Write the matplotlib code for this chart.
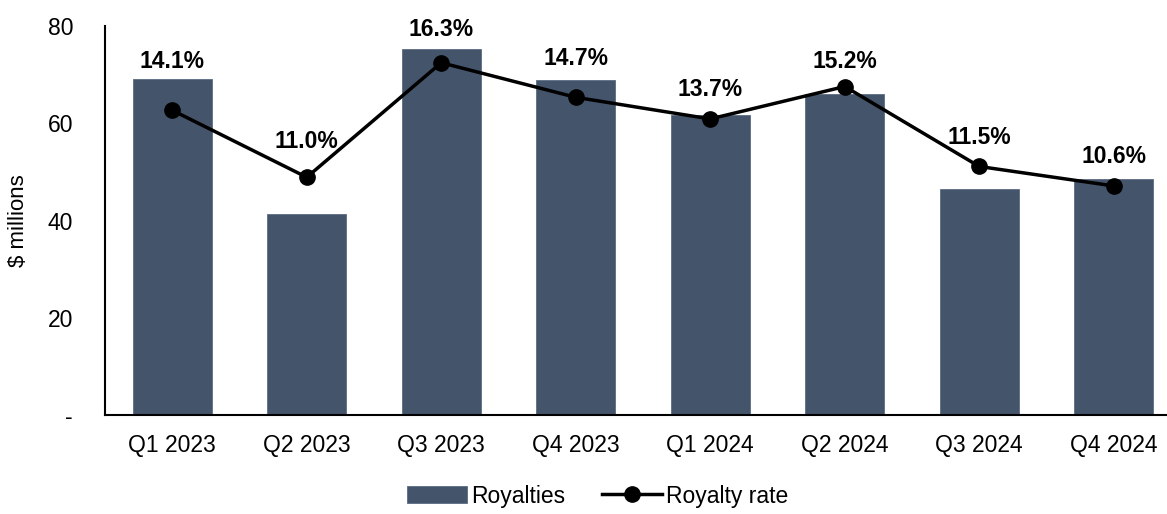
import matplotlib.pyplot as plt
import numpy as np

quarters = ["Q1 2023", "Q2 2023", "Q3 2023", "Q4 2023",
            "Q1 2024", "Q2 2024", "Q3 2024", "Q4 2024"]
royalties = [69.1, 41.4, 75.3, 68.9, 61.7, 66.0, 46.5, 48.6]
royalty_rate = [14.1, 11.0, 16.3, 14.7, 13.7, 15.2, 11.5, 10.6]
label_offsets = [35, 26, 24, 28, 21, 18, 21, 21]

plt.rcParams['font.family'] = ['Liberation Sans', 'DejaVu Sans']

fig = plt.figure(figsize=(11.67, 5.14), dpi=100)
ax = fig.add_axes([105 / 1167, 1 - 415 / 514, 1076 / 1167, 389 / 514])
x = np.arange(len(quarters))

bars = ax.bar(x, royalties, width=0.59, color='#44546A', edgecolor='#5b6b82',
              linewidth=0.6, label='Royalties', zorder=2)
ax.set_xlim(-0.5, len(quarters) - 0.5)
ax.set_ylim(0, 80)
ax.set_yticks([0, 20, 40, 60, 80])
ax.set_yticklabels(['-', '20', '40', '60', '80'])
ax.set_xticks(x)
ax.set_xticklabels(quarters)
ax.tick_params(axis='both', length=0, labelsize=16.5, pad=14)
ax.tick_params(axis='y', pad=23)
ax.set_ylabel('$ millions', fontsize=16, labelpad=13)
for s in ['top', 'right']:
    ax.spines[s].set_visible(False)
ax.spines['left'].set_linewidth(1.5)
ax.spines['bottom'].set_linewidth(1.5)

ax2 = ax.twinx()
ax2.set_ylim(0, 18)
line, = ax2.plot(x, royalty_rate, color='black', linewidth=2.5, marker='o',
                 markersize=11, label='Royalty rate', zorder=3)
ax2.axis('off')
for xi, r, off in zip(x, royalty_rate, label_offsets):
    ax2.annotate(f'{r:.1f}%', (xi, r), xytext=(0, off), textcoords='offset points',
                 ha='center', va='center', fontsize=16.5, fontweight='bold')

fig.legend([bars, line], ['Royalties', 'Royalty rate'], loc='center',
           bbox_to_anchor=(598 / 1167, 1 - 496 / 514), ncol=2, frameon=False,
           fontsize=16.5, handlelength=2.6, handletextpad=0.2, columnspacing=1.6)

fig.savefig('out.png', dpi=100)
